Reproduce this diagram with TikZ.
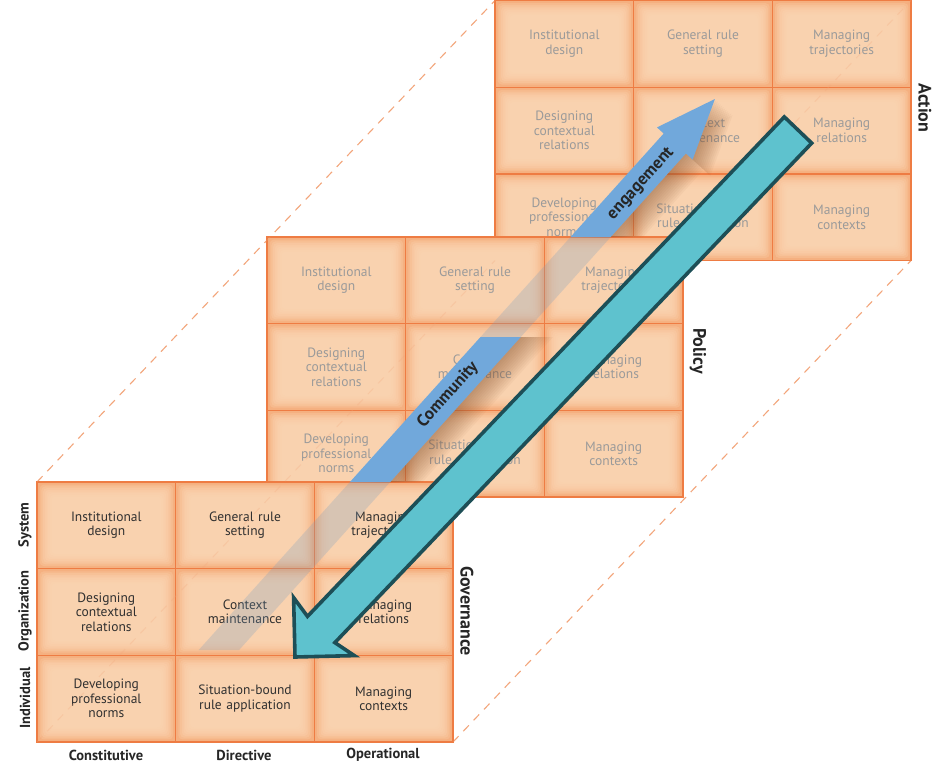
\documentclass[tikz,border=0pt]{standalone}
\usepackage{fontspec}
\setmainfont{PT Sans}
\usepackage{tikz}
\usetikzlibrary{calc}

\definecolor{cellfill}{HTML}{F5B080}
\definecolor{cellglow}{HTML}{FCD8B6}
\definecolor{cellline}{HTML}{EE7C43}
\definecolor{dashline}{HTML}{F3A57A}
\definecolor{frontText}{HTML}{303030}
\definecolor{backText}{HTML}{9A9A9A}
\definecolor{commBlue}{HTML}{71A8DB}
\definecolor{tealFill}{HTML}{5EC2CE}
\definecolor{tealLine}{HTML}{1D4F57}
\definecolor{shadowBrown}{HTML}{8A5530}

\newcommand{\engagementpath}{(198.7,650) -- (663.7,133.5) -- (657,127.4) -- (714.9,99) -- (692.6,159.6) -- (685.9,153.5) -- (239.1,650) -- cycle}

\begin{document}
\begin{tikzpicture}[x=1pt,y=-1pt]
\tikzstyle{cell}=[text width=134pt, align=center, inner sep=0pt, font=\fontsize{13.5}{14.5}\selectfont]
\tikzstyle{axis}=[inner sep=0pt, text=black!85, font=\bfseries\fontsize{14.5}{15}\selectfont]
\tikzstyle{layername}=[inner sep=0pt, text=black!85, rotate=-90, font=\bfseries\fontsize{18}{19}\selectfont]
\tikzstyle{guide}=[dashline, line width=1pt, dash pattern=on 8pt off 7pt]
\tikzstyle{onarrow}=[inner sep=0pt, text=black!85, rotate=48, font=\bfseries\fontsize{17}{18}\selectfont]
\useasboundingbox (0,0) rectangle (947,771);
\fill[white] (0,0) rectangle (947,771);

% corner guides
\coordinate (tl0) at (37,482);
\coordinate (tr0) at (453,482);
\coordinate (bl0) at (37,742);
\coordinate (br0) at (453,742);
\coordinate (tl2) at (495,0.5);
\coordinate (tr2) at (911,0.5);
\coordinate (bl2) at (495,260.5);
\coordinate (br2) at (911,260.5);
\draw[guide] (tl0) -- (tl2);
\draw[guide] (tr0) -- (tr2);
\draw[guide] (bl0) -- (bl2);
\draw[guide] (br0) -- (br2);

% the three layers, back to front
\foreach \lx/\ly/\tc/\ln in {495/0.5/backText/act, 267/237/backText/pol, 37/482/frontText/gov} {
  \foreach \r in {0,1,2} {
    \foreach \c in {0,1,2} {
      \fill[cellfill] (\lx+\c*138.7, \ly+\r*86.7) rectangle +(138.7,86.7);
      \foreach \k in {1,...,8}
        \fill[cellglow, opacity=0.26, rounded corners=4pt]
          (\lx+\c*138.7+1.7*\k+1, \ly+\r*86.7+1.7*\k+1) rectangle
          (\lx+\c*138.7+137.7-1.7*\k, \ly+\r*86.7+85.7-1.7*\k);
    }
  }
  \draw[cellline, line width=1.2pt] (\lx,\ly) rectangle +(416,260);
  \foreach \i in {1,2} {
    \draw[cellline, line width=1.2pt] (\lx+\i*138.7,\ly) -- +(0,260);
    \draw[cellline, line width=1.2pt] (\lx,\ly+\i*86.7) -- +(416,0);
  }
  \foreach \c/\r/\txt in {0/0/{Institutional\\design}, 1/0/{General rule\\setting},
      2/0/{Managing\\trajectories}, 0/1/{Designing\\contextual\\relations},
      1/1/{Context\\maintenance}, 2/1/{Managing\\relations},
      0/2/{Developing\\professional\\norms}, 1/2/{Situation-bound\\rule application},
      2/2/{Managing\\contexts}}
    \node[cell, text=\tc] (\ln-\r-\c) at (\lx+\c*138.7+69.3, \ly+\r*86.7+43.3) {\txt};
}

% guides seen through the cards
\draw[guide, opacity=0.25] (tl0) -- (tl2);
\draw[guide, opacity=0.25] (tr0) -- (tr2);
\draw[guide, opacity=0.25] (bl0) -- (bl2);
\draw[guide, opacity=0.25] (br0) -- (br2);

% axis labels
\node[axis, rotate=90] (system) at (25,525) {System};
\node[axis, rotate=90] (organization) at (25,611) {Organization};
\node[axis, rotate=90] (individual) at (25,698) {Individual};
\node[axis] (constitutive) at (106,755) {Constitutive};
\node[axis] (directive) at (244,755) {Directive};
\node[axis] (operational) at (383,755) {Operational};
\node[layername] (governance) at (467,611) {Governance};
\node[layername] (policy) at (698,351) {Policy};
\node[layername] (action) at (925,108) {Action};

% community engagement arrow
\begin{scope}
\clip (0,0) rectangle (947,237) (0,337) rectangle (947,482);
\foreach \s in {2,4,...,24}
  \fill[shadowBrown, opacity=0.05, shift={(0.74*\s,0.67*\s)}] \engagementpath;
\fill[commBlue] \engagementpath;
\end{scope}
\begin{scope}
\clip (0,237) rectangle (947,337) (0,482) rectangle (947,771);
\fill[commBlue!70!gray, opacity=0.25] \engagementpath;
\end{scope}
\node[onarrow] (community) at (448,395) {Community};
\node[onarrow] (engagement) at (641,184) {engagement};

% big arrow
\draw[tealLine, fill=tealFill, line width=3.6pt]
  (784.3,116.9) -- (811.7,143.1) -- (334.9,642.6) -- (354.4,655.6) -- (295,657)
  -- (293.6,597.6) -- (307.5,616.4) -- cycle;
\end{tikzpicture}
\end{document}
